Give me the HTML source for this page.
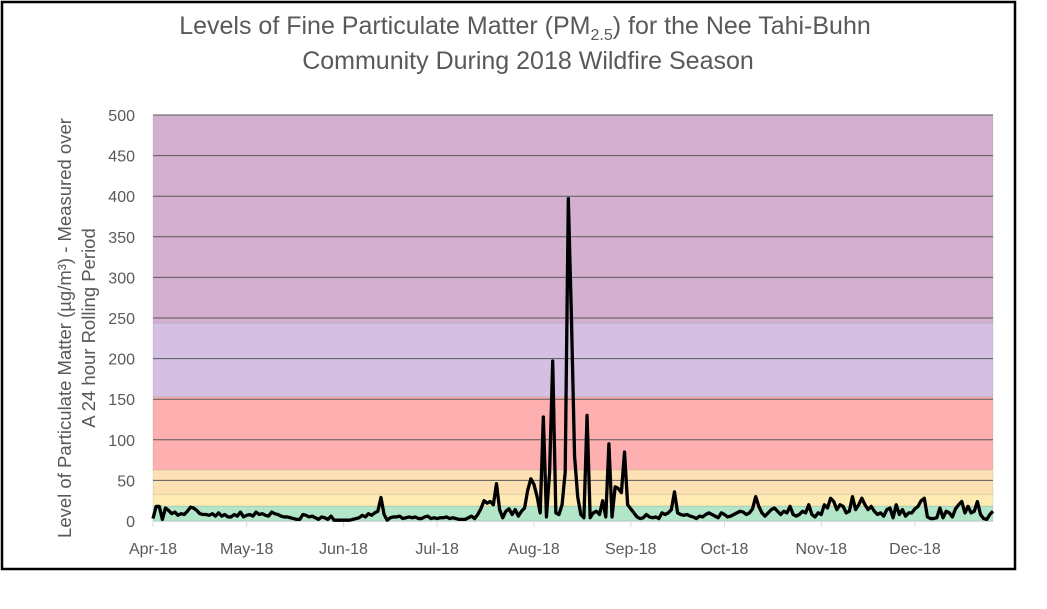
<!DOCTYPE html>
<html><head><meta charset="utf-8">
<style>
body{margin:0;background:#fff;width:1047px;height:604px;overflow:hidden}
svg text{font-family:"Liberation Sans",sans-serif;fill:#595959}
</style></head>
<body>
<svg width="1047" height="604" viewBox="0 0 1047 604">
<rect x="2" y="2" width="1013" height="567" fill="#fff" stroke="#000" stroke-width="2.5"/>
<text x="525" y="34" font-size="25" text-anchor="middle">Levels of Fine Particulate Matter (PM<tspan font-size="16" dy="6">2.5</tspan><tspan dy="-6">) for the Nee Tahi-Buhn</tspan></text>
<text x="528" y="69" font-size="25" text-anchor="middle">Community During 2018 Wildfire Season</text>
<g transform="translate(71,328) rotate(-90)">
<text x="0" y="0" font-size="18.5" text-anchor="middle">Level of Particulate Matter (µg/m³) - Measured over</text>
<text x="0" y="24" font-size="18.5" text-anchor="middle">A 24 hour Rolling Period</text>
</g>
<g id="bands"></g>
<g id="grid"></g>
<g id="yticks"></g>
<g id="xticks"></g>
<path id="line" fill="none" stroke="#000" stroke-width="3.3" stroke-linejoin="round"/>
</svg>
<script>
const yTicks=[0,50,100,150,200,250,300,350,400,450,500];
const bandLimits=[0,18.5,33,63,153,244,500];
const bandColors=["#b3e5c9","#feebb3","#fde0b3","#feb0b0","#d5c0e3","#d3b0d0"];
const monthLabels=["Apr-18","May-18","Jun-18","Jul-18","Aug-18","Sep-18","Oct-18","Nov-18","Dec-18"];
const monthStartDays=[0,30,61,91,122,153,183,214,244];
const apr=[3,18,18,2,16,13,9,11,7,9,8,12,17,16,13,9,8,8,7,9,6,10,6,8,5,5,8,6,11,5];
const may=[7,8,6,11,8,9,7,6,11,9,8,6,5,5,4,3,2,2,8,7,5,6,4,2,5,4,2,6,1,1,1];
const jun=[1,1,1,2,3,4,7,5,9,7,10,12,29,8,1,4,5,5,6,3,4,5,4,5,3,3,5,6,3,4];
const jul=[3,4,4,5,3,4,3,2,2,2,4,6,3,8,15,25,22,24,20,46,14,4,12,15,8,14,6,12,16,38,52];
const aug=[45,30,10,128,5,60,197,10,8,20,60,397,250,80,30,8,4,130,4,10,12,8,25,5,95,5,42,40,35,85,20];
const sep=[15,10,5,3,4,8,5,4,5,3,10,8,10,14,36,10,8,7,8,6,5,3,6,5,8,10,8,6,4,10];
const oct=[8,5,6,8,10,12,11,8,10,15,30,18,10,6,10,14,16,12,8,12,10,18,8,6,8,12,10,20,8,5,10];
const nov=[8,20,16,28,24,14,20,18,10,12,30,14,20,28,20,14,18,12,8,10,6,14,16,4,20,8,14,6,10,10];
const dec=[15,18,25,28,5,3,3,4,16,4,12,10,5,15,20,24,10,18,10,12,24,8,3,2,8,12];
const values=[].concat(apr,may,jun,jul,aug,sep,oct,nov,dec);
const X0=153,X1=993,Y0=521,Y1=115,YMAX=500;
const nDays=values.length-1;
function xs(d){return X0+(X1-X0)*d/nDays;}
function ys(v){return Y0-(Y0-Y1)*v/YMAX;}
const NS="http://www.w3.org/2000/svg";
function mk(tag,attrs,parent){const e=document.createElementNS(NS,tag);for(const k in attrs)e.setAttribute(k,attrs[k]);parent.appendChild(e);return e;}
const bands=document.getElementById('bands');
for(let i=0;i<bandColors.length;i++){
  const r=mk('rect',{x:X0,y:ys(bandLimits[i+1]),width:X1-X0,height:ys(bandLimits[i])-ys(bandLimits[i+1]),fill:bandColors[i],stroke:"rgba(0,0,0,0.08)","stroke-width":1},bands);
  
  
}
const grid=document.getElementById('grid'),yt=document.getElementById('yticks');
yTicks.forEach(v=>{
  if(v>0){const l=mk('line',{x1:X0,x2:X1,y1:ys(v),y2:ys(v),stroke:"#595959","stroke-width":1},grid);
  
  }
  const t=mk('text',{x:135,y:ys(v)+6,"font-size":16,"text-anchor":"end"},yt);t.textContent=v;
  
  
});
const xt=document.getElementById('xticks');
mk('line',{x1:X0,x2:X1,y1:Y0+0.5,y2:Y0+0.5,stroke:"#d9d9d9","stroke-width":1},xt);
monthLabels.forEach((m,i)=>{
  const x=xs(monthStartDays[i]);
  const l=mk('line',{x1:x,x2:x,y1:Y0,y2:Y0+6,stroke:"#d9d9d9","stroke-width":1},xt);
  
  
  const t=mk('text',{x:x,y:Y0+33,"font-size":16,"text-anchor":"middle"},xt);t.textContent=m;
  
  
});
document.getElementById('line').setAttribute('d',values.map((v,i)=>(i?'L':'M')+xs(i).toFixed(2)+' '+ys(v).toFixed(2)).join(' '));
</script>
</body></html>
